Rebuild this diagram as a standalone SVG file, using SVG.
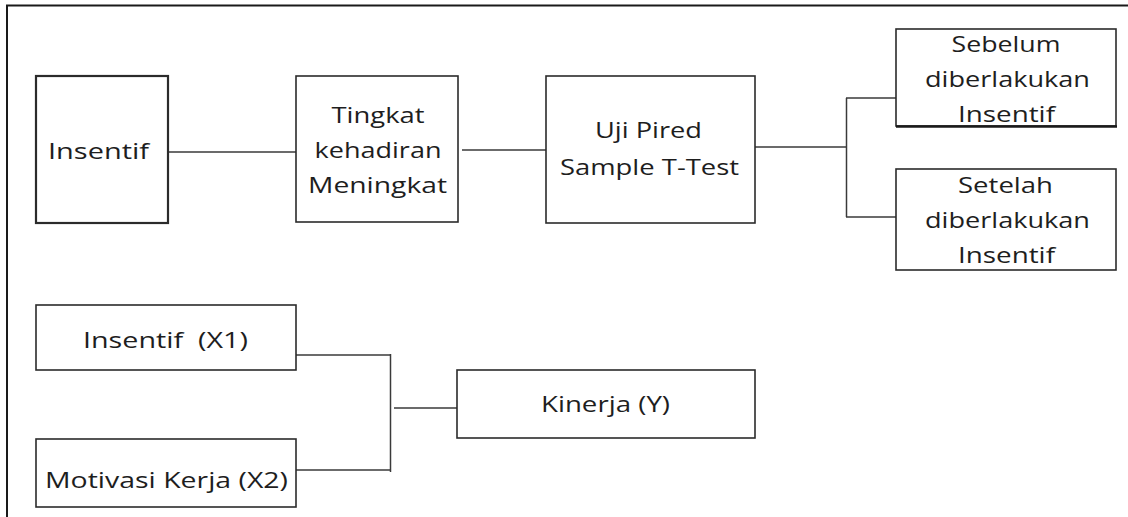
<svg xmlns="http://www.w3.org/2000/svg" width="1128" height="517" viewBox="0 0 1128 517">
<style>
.box{fill:#fff;stroke:#2b2b2b;stroke-width:1.6}
.thick{stroke-width:2.2}
.t{font-family:"Open Sans","Noto Sans",sans-serif;font-size:22.5px;fill:#1e1e1e;text-anchor:middle}
.c{fill:none;stroke:#3a3a3a;stroke-width:1.5}
</style>
<rect width="1128" height="517" fill="#fff"/>
<g id="frame">
<path d="M7 517 V5.5 H1128" fill="none" stroke="#1a1a1a" stroke-width="2"/>
</g>
<g id="connectors">
<path class="c" d="M168 152 H296"/>
<path class="c" d="M462 150 H549"/>
<path class="c" d="M755 147 H847"/>
<path class="c" d="M846.5 98 V217"/>
<path class="c" d="M846 98 H896"/>
<path class="c" d="M846 217 H896"/>
<path class="c" d="M296 355 H391"/>
<path class="c" d="M296 470 H391"/>
<path class="c" d="M390.5 354 V472"/>
<path class="c" d="M394 408 H457"/>
</g>
<g id="n-insentif">
<rect class="box thick" x="36" y="76" width="132" height="147"/>
<text class="t" x="98.5" y="159" textLength="101" lengthAdjust="spacingAndGlyphs">Insentif</text>
</g>
<g id="n-tingkat">
<rect class="box" x="296" y="76" width="162" height="146"/>
<text class="t" x="378" y="123" textLength="93" lengthAdjust="spacingAndGlyphs">Tingkat</text>
<text class="t" x="378" y="158" textLength="127" lengthAdjust="spacingAndGlyphs">kehadiran</text>
<text class="t" x="377.5" y="193" textLength="139" lengthAdjust="spacingAndGlyphs">Meningkat</text>
</g>
<g id="n-uji">
<rect class="box" x="546" y="76" width="209" height="147"/>
<text class="t" x="648.5" y="138" textLength="107" lengthAdjust="spacingAndGlyphs">Uji Pired</text>
<text class="t" x="649.5" y="175" textLength="179" lengthAdjust="spacingAndGlyphs">Sample T-Test</text>
</g>
<g id="n-sebelum">
<rect class="box" x="896" y="29" width="220" height="97"/>
<path d="M896 126.5 H1117" stroke="#1a1a1a" stroke-width="2.4"/>
<text class="t" x="1006" y="52" textLength="109" lengthAdjust="spacingAndGlyphs">Sebelum</text>
<text class="t" x="1007.5" y="87" textLength="165" lengthAdjust="spacingAndGlyphs">diberlakukan</text>
<text class="t" x="1006.5" y="122" textLength="97" lengthAdjust="spacingAndGlyphs">Insentif</text>
</g>
<g id="n-setelah">
<rect class="box" x="896" y="169" width="220" height="101"/>
<text class="t" x="1005.5" y="193" textLength="95" lengthAdjust="spacingAndGlyphs">Setelah</text>
<text class="t" x="1007.5" y="228" textLength="165" lengthAdjust="spacingAndGlyphs">diberlakukan</text>
<text class="t" x="1006.5" y="263" textLength="97" lengthAdjust="spacingAndGlyphs">Insentif</text>
</g>
<g id="n-x1">
<rect class="box" x="36" y="305" width="260" height="65"/>
<text class="t" x="165.5" y="348" textLength="165" lengthAdjust="spacingAndGlyphs">Insentif&#160; (X1)</text>
</g>
<g id="n-x2">
<rect class="box" x="36" y="439" width="260" height="68"/>
<text class="t" x="166.5" y="488" textLength="243" lengthAdjust="spacingAndGlyphs">Motivasi Kerja (X2)</text>
</g>
<g id="n-y">
<rect class="box" x="457" y="370" width="298" height="68"/>
<text class="t" x="605.5" y="412" textLength="129" lengthAdjust="spacingAndGlyphs">Kinerja (Y)</text>
</g>
</svg>
